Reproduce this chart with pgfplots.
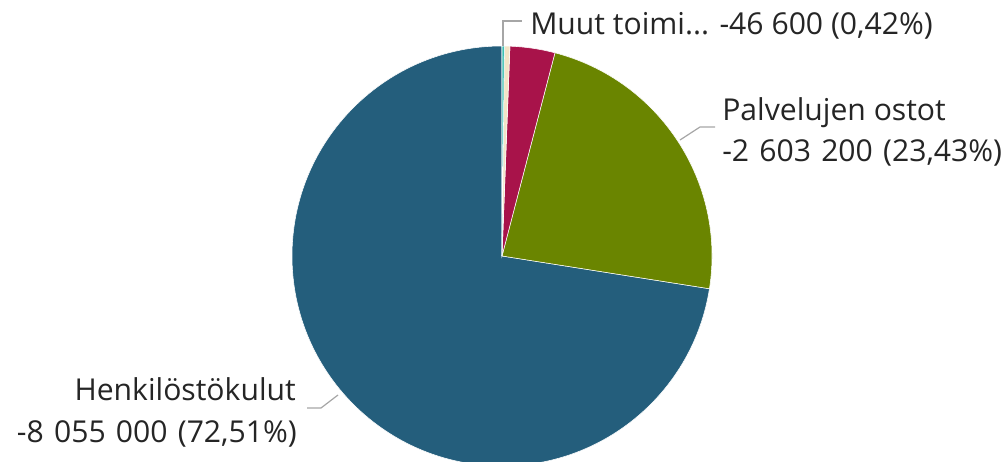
\documentclass[border=0pt]{standalone}
\usepackage{pgfplots}
\pgfplotsset{compat=1.18}
\usepackage{pgfplotstable}
\usepackage{fontspec}
\setmainfont{Open Sans}

\definecolor{cBlue}{HTML}{245E7C}
\definecolor{cGreen}{HTML}{6A8500}
\definecolor{cRed}{HTML}{A8134A}
\definecolor{cCream}{HTML}{F3E4C6}
\definecolor{cTeal}{HTML}{3DBFB3}
\definecolor{cText}{HTML}{252525}
\definecolor{cLead}{HTML}{A6A6A6}

% costs, counter-clockwise from 12 o'clock
\pgfplotstableread[col sep=comma]{
name,value
Henkilöstökulut,8055000
Palvelujen ostot,2603200
Muut kulut,384200
Muut toimi...,46600
Muut,20000
}\costs

\begin{document}
\begin{tikzpicture}
\pgfplotstablegetelem{0}{value}\of\costs \edef\vA{\pgfplotsretval}
\pgfplotstablegetelem{1}{value}\of\costs \edef\vB{\pgfplotsretval}
\pgfplotstablegetelem{2}{value}\of\costs \edef\vC{\pgfplotsretval}
\pgfplotstablegetelem{3}{value}\of\costs \edef\vD{\pgfplotsretval}
\pgfplotstablegetelem{4}{value}\of\costs \edef\vE{\pgfplotsretval}
\edef\tot{\fpeval{\vA+\vB+\vC+\vD+\vE}}
\edef\aA{90}
\edef\aB{\fpeval{\aA+360*\vA/\tot}}
\edef\aC{\fpeval{\aB+360*\vB/\tot}}
\edef\aD{\fpeval{\aC+360*\vC/\tot}}
\edef\aE{\fpeval{\aD+360*\vD/\tot}}
\edef\aF{\fpeval{\aE+360*\vE/\tot}}
\begin{axis}[
  scale only axis, width=755.25pt, height=345.75pt,
  xmin=0, xmax=1007, ymin=0, ymax=461,
  hide axis, clip=true,
]
\addplot[draw=none] coordinates {(502,205)};
% radius 210 axis units = 157.5pt
\newcommand\slice[3]{%
  \fill[#1, draw=white, line width=0.4pt] (axis cs:502,205) -- ++(#2:157.5pt)
    arc[start angle=#2, end angle=#3, radius=157.5pt] -- cycle;}
\slice{cBlue}{\aA}{\aB}
\slice{cGreen}{\aB}{\aC}
\slice{cRed}{\aC}{\aD}
\slice{cCream}{\aD}{\aE}
\slice{cTeal}{\aE}{\aF}
% leader lines
\draw[cLead, line width=0.9pt] (axis cs:503,415) -- (axis cs:503,440) -- (axis cs:522,440);
\draw[cLead, line width=0.9pt] (axis cs:680,321) -- (axis cs:700,334) -- (axis cs:715,334);
\draw[cLead, line width=0.9pt] (axis cs:338,66) -- (axis cs:321,53) -- (axis cs:307,53);
% labels
\begin{scope}[every node/.style={text=cText, inner sep=0pt, font=\fontsize{22.6}{27}\selectfont}]
\node[anchor=base west] at (axis cs:530,426) {Muut toimi... -46 600 (0,42\%)};
\node[anchor=base west] at (axis cs:722,340.3) {Palvelujen ostot};
\node[anchor=base west] at (axis cs:722,299.3) {\spaceskip=1.3\fontdimen2\font -2 603 200 (23,43\%)};
\node[anchor=base east] at (axis cs:296,60.3) {Henkilöstökulut};
\node[anchor=base east] at (axis cs:297,18.3) {\spaceskip=1.3\fontdimen2\font -8 055 000 (72,51\%)};
\end{scope}
\end{axis}
\pgfresetboundingbox
\path (current axis.south west) rectangle (current axis.north east);
\end{tikzpicture}
\end{document}
